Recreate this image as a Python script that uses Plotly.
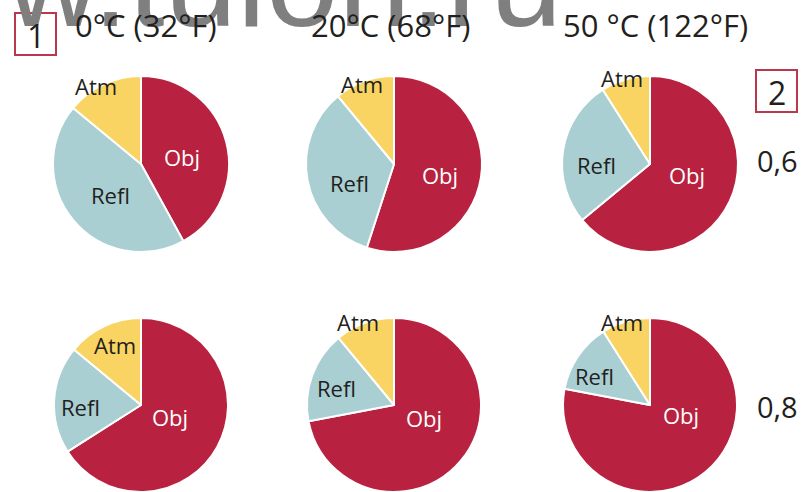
import plotly.graph_objects as go

# ---- data ----
categories = ["Obj", "Refl", "Atm"]
temperatures = ["0°C (32°F)", "20°C (68°F)", "50 °C (122°F)"]
emissivities = ["0,6", "0,8"]
values_e06 = [[42, 44, 14], [55, 34, 11], [64, 27, 9]]
values_e08 = [[66, 20, 14], [72, 17, 11], [78, 13, 9]]
box_labels = ["1", "2"]
watermark = "www.tulon.ru"

# ---- layout / style ----
W, H = 808, 492
colors = ["#B8213F", "#A9CFD3", "#F9D462"]
text_colors = {"Obj": "white", "Refl": "#231F20", "Atm": "#231F20"}
FONT = "Open Sans"

col_cx = [141, 394, 650]
row_cy = [164, 406]
R = 88

# label pixel positions per pie (row, col) -> {cat: (x, y)}
label_pos = [
    [{"Obj": (182, 157), "Refl": (110, 195), "Atm": (96, 86)},
     {"Obj": (440, 175), "Refl": (349, 183), "Atm": (362, 84)},
     {"Obj": (687, 175), "Refl": (596, 165), "Atm": (622, 78)}],
    [{"Obj": (170, 417), "Refl": (80, 407), "Atm": (115, 345)},
     {"Obj": (424, 418), "Refl": (336, 388), "Atm": (358, 322)},
     {"Obj": (681, 415), "Refl": (594, 376), "Atm": (622, 322)}],
]


def ann(text, px, py, size, color, family=FONT, xanchor="center", yanchor="middle", **kw):
    return dict(
        x=px / W, y=1 - py / H, xref="paper", yref="paper",
        xanchor=xanchor, yanchor=yanchor, text=text, showarrow=False,
        font=dict(family=family, size=size, color=color), **kw,
    )


fig = go.Figure()
annotations = []

# watermark (drawn first so other text sits above it)
annotations.append(ann(watermark, 564, 28, 130, "#7F7F7F", family="Liberation Sans",
                       xanchor="right", yanchor="bottom", yshift=-28))

for r, row_vals in enumerate([values_e06, values_e08]):
    for c, vals in enumerate(row_vals):
        cx, cy = col_cx[c], row_cy[r]
        x0, x1 = (cx - R) / W, (cx + R) / W
        y0 = max(0.0, (H - cy - R) / H)
        y1 = min(1.0, (H - cy + R) / H)
        fig.add_trace(go.Pie(
            labels=categories, values=vals, sort=False,
            direction="clockwise", rotation=0,
            marker=dict(colors=colors, line=dict(color="white", width=2)),
            textinfo="none", hoverinfo="label+value",
            domain=dict(x=[x0, x1], y=[y0, y1]),
            showlegend=False,
        ))
        for cat in categories:
            px, py = label_pos[r][c][cat]
            annotations.append(ann(cat, px, py, 22, text_colors[cat]))

# column titles
title_x = [146, 390, 655]
for t, tx in zip(temperatures, title_x):
    annotations.append(ann(t, tx, 25, 31, "#231F20"))

# emissivity labels
for e, ey in zip(emissivities, [160, 406]):
    annotations.append(ann(e, 777, ey, 29, "#231F20"))

# boxed numbers
shapes = []
boxes = [(15, 13, 56, 55), (756, 70, 797, 112)]
for lbl, (bx0, by0, bx1, by1) in zip(box_labels, boxes):
    shapes.append(dict(
        type="rect", xref="paper", yref="paper",
        x0=bx0 / W, x1=bx1 / W, y0=1 - by1 / H, y1=1 - by0 / H,
        line=dict(color="#B8384E", width=2), fillcolor="rgba(0,0,0,0)",
    ))
    annotations.append(ann(lbl, (bx0 + bx1) / 2, (by0 + by1) / 2 + 1, 32, "#231F20"))

fig.update_layout(
    width=W, height=H,
    margin=dict(l=0, r=0, t=0, b=0),
    paper_bgcolor="white", plot_bgcolor="white",
    annotations=annotations, shapes=shapes,
)

fig.write_html("out.html", config={"displayModeBar": False},
               post_script="document.body.style.margin='0';")
